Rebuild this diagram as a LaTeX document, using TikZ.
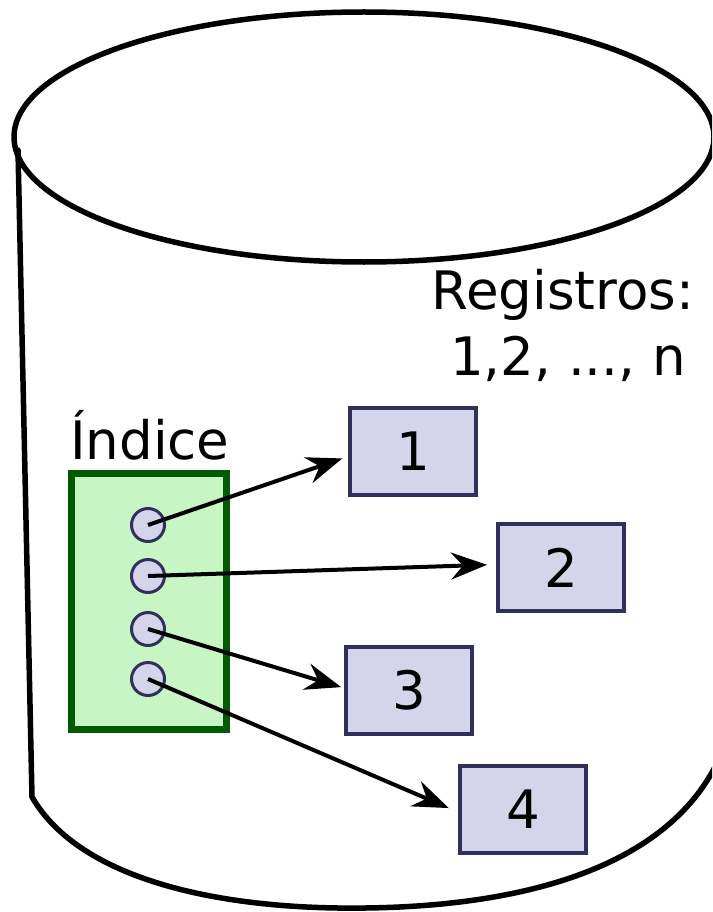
\documentclass[tikz,border=0pt]{standalone}
\usepackage{fontspec}
\setmainfont{DejaVu Sans}
\usetikzlibrary{arrows.meta}
\definecolor{idxfill}{HTML}{C8F5C4}
\definecolor{idxdraw}{HTML}{005A00}
\definecolor{recfill}{HTML}{D4D4EA}
\definecolor{recdraw}{HTML}{30305A}
\begin{document}
\begin{tikzpicture}[x=1pt,y=-1pt,
  cyl/.style={line width=5.5pt, line join=round, line cap=round},
  recbox/.style={draw=recdraw, fill=recfill, line width=4pt, minimum width=126pt, minimum height=87pt, inner sep=0pt, font=\fontsize{53}{64}\selectfont},
  dot/.style={circle, draw=recdraw, fill=recfill, line width=3pt, minimum size=33pt, inner sep=0pt},
  ptr/.style={line width=4pt, -{Stealth[length=36pt,width=27pt,inset=12pt]}, shorten >=6pt},
  lbl/.style={font=\fontsize{53}{68}\selectfont, inner sep=0pt}]
\useasboundingbox (0,0) rectangle (712,912);
\clip (0,0) rectangle (712,912);
% cylinder
\draw[cyl] (364,137) ellipse [x radius=350, y radius=125];
\draw[cyl] (18,150) -- (32,797) .. controls (80,880) and (220,910) .. (365,908)
  .. controls (530,906) and (665,865) .. (716,765) -- (716,150);
% labels
\node[lbl, anchor=base] (reg1) at (563,309) {Registros:};
\node[lbl, anchor=base] (reg2) at (568,375) {1,2, ..., n};
\node[lbl, anchor=base west] (idxlbl) at (70,459) {Índice};
% index box
\node[draw=idxdraw, fill=idxfill, line width=7pt, minimum width=155pt, minimum height=256pt, inner sep=0pt] (idx) at (149,601.5) {};
% pointers
\node[dot] (c1) at (148,525) {};
\node[dot] (c2) at (148,576) {};
\node[dot] (c3) at (148,629) {};
\node[dot] (c4) at (148,679) {};
% records
\node[recbox] (b1) at (413,451.5) {1};
\node[recbox] (b2) at (561,567.5) {2};
\node[recbox] (b3) at (409,690) {3};
\node[recbox] (b4) at (523,809) {4};
% arrows
\draw[ptr] (c1.center) -- ([yshift=-5pt]b1.west);
\draw[ptr, shorten >=9pt] (c2.center) -- ([yshift=3pt]b2.west);
\draw[ptr, shorten >=3pt] (c3.center) -- ([yshift=2pt]b3.west);
\draw[ptr, shorten >=10pt] (c4.center) -- ([yshift=-3pt]b4.west);
\end{tikzpicture}
\end{document}
